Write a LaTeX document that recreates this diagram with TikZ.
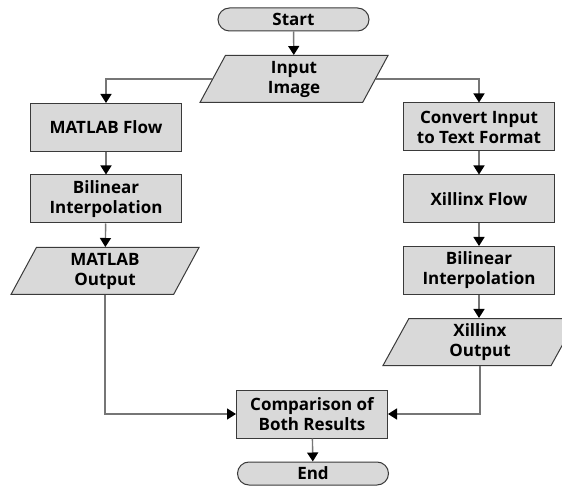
\documentclass[tikz,border=0pt]{standalone}
\usepackage{fontspec}
\setmainfont{Open Sans}
\usetikzlibrary{shapes.geometric,arrows.meta}
\definecolor{boxfill}{HTML}{D9D9D9}
\definecolor{boxline}{HTML}{3A3A3A}
\definecolor{linegray}{HTML}{767676}
\tikzset{
  proc/.style={draw=boxline, fill=boxfill, line width=1pt, minimum width=151pt,
    minimum height=48pt, inner sep=0pt, align=center},
  term/.style={draw=boxline, fill=boxfill, line width=1pt, rounded corners=11.5pt,
    minimum width=151pt, minimum height=23pt, inner sep=0pt},
  io/.style={trapezium, trapezium left angle=55, trapezium right angle=125,
    trapezium stretches body, draw=boxline, fill=boxfill, line width=1pt,
    minimum width=188pt, minimum height=47pt, inner sep=0pt, align=center},
  flow/.style={draw=linegray, line width=1.4pt,
    -{Triangle[width=11pt,length=9pt,color=black]}},
  every node/.style={font=\fontsize{17}{20}\selectfont\bfseries}
}
\begin{document}
\begin{tikzpicture}[x=1pt,y=-1pt]
      \useasboundingbox[fill=white] (0,0) rectangle (562,486);
      \clip (0,0) rectangle (562,486);
      \node[term] (start) at (293.5,19.5) {Start};
      \node[io] (in) at (294,79) {Input\\Image};
      \node[proc] (mf) at (106,127.5) {MATLAB Flow};
      \node[proc] (bl) at (106,199) {Bilinear\\Interpolation};
      \node[io] (mo) at (105,271) {MATLAB\\Output};
      \node[proc] (cv) at (479,127) {Convert Input\\to Text Format};
      \node[proc] (xf) at (479,199) {Xillinx Flow};
      \node[proc] (br) at (479,270.5) {Bilinear\\Interpolation};
      \node[io, minimum width=194pt] (xo) at (480,342) {Xillinx\\Output};
      \node[proc] (cmp) at (312,414) {Comparison of\\Both Results};
      \node[term] (end) at (313,473.5) {End};
      \begin{scope}[flow]
        \draw (start) to (in);
        \draw (in.west) -| (mf.north);
        \draw (in.east) -| (cv.north);
        \draw (mf) to (bl);
        \draw (bl) to (mo);
        \draw (cv) to (xf);
        \draw (xf) to (br);
        \draw (br.south) to (br.south |- xo.north);
        \draw (mo.south) |- (cmp.west);
        \draw (xo.south) |- (cmp.east);
        \draw (cmp) to (end);
      \end{scope}
    \end{tikzpicture}
\end{document}
